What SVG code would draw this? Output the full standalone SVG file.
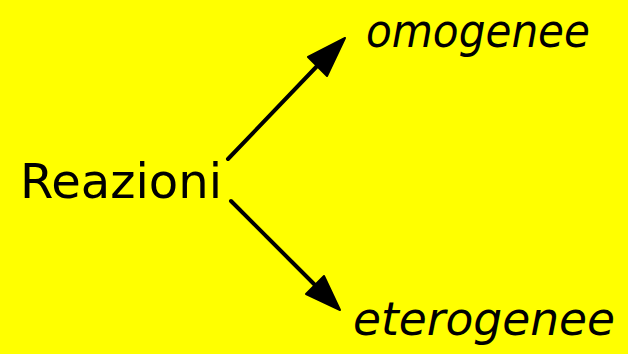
<svg xmlns="http://www.w3.org/2000/svg" width="628" height="354" viewBox="0 0 628 354">
<style>
.t{font-family:"Comic Sans MS","DejaVu Sans",sans-serif;font-size:48px;fill:#000}
.i{font-style:italic;font-size:46px}
.c{stroke:#000;stroke-width:4;stroke-linecap:round;fill:none}
</style>
<rect x="0" y="0" width="628" height="354" fill="#ffff00"/>
<g id="reazioni"><text class="t" x="20" y="198" textLength="202" lengthAdjust="spacingAndGlyphs">Reazioni</text></g>
<g id="omogenee"><text class="t i" x="366" y="47" textLength="224" lengthAdjust="spacingAndGlyphs">omogenee</text></g>
<g id="eterogenee"><text class="t i" x="353" y="335" textLength="262" lengthAdjust="spacingAndGlyphs">eterogenee</text></g>
<g id="connectors">
<line class="c" x1="228" y1="159" x2="320" y2="63"/>
<polygon points="345,38 308,57 327,76" fill="#000" stroke="#000" stroke-width="2" stroke-linejoin="round"/>
<line class="c" x1="231" y1="201" x2="318" y2="288"/>
<polygon points="340,310 306,294 324,276" fill="#000" stroke="#000" stroke-width="2" stroke-linejoin="round"/>
</g>
</svg>
